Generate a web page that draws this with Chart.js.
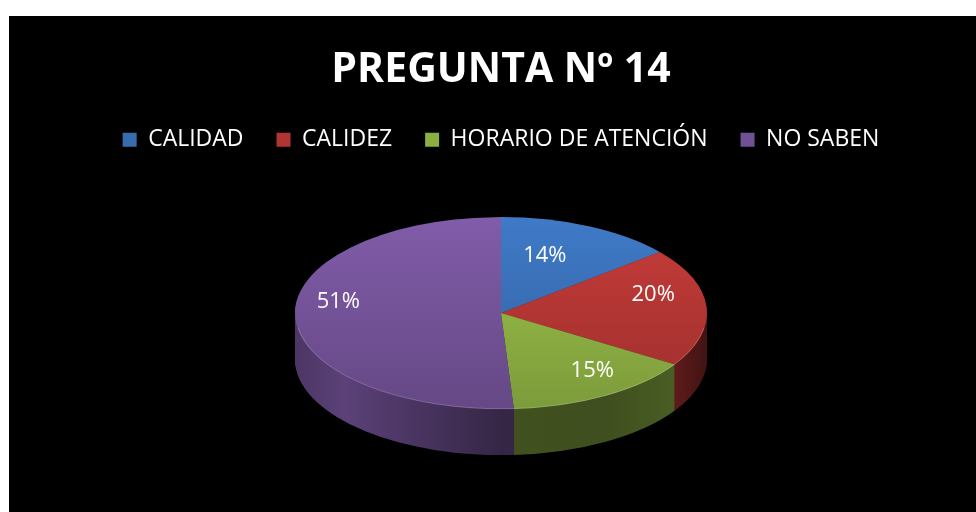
<!DOCTYPE html>
<html>
<head>
<meta charset="utf-8">
<script src="https://cdn.jsdelivr.net/npm/chart.js@4.4.0/dist/chart.umd.min.js"></script>
<style>
html, body { margin: 0; padding: 0; background: #fff; }
#frame { position: absolute; left: 9px; top: 16px; width: 967px; height: 496px; background: #000; }
</style>
</head>
<body>
<div id="frame"><canvas id="chart" width="967" height="496"></canvas></div>
<script>
var categories = ['CALIDAD', 'CALIDEZ', 'HORARIO DE ATENCIÓN', 'NO SABEN'];
var percentages = [14, 20, 15, 51];
var sliceColors = [[62, 120, 196], [195, 59, 56], [155, 194, 74], [126, 90, 166]];

function rgb(c, k) {
	return 'rgb(' + Math.round(c[0] * k) + ',' + Math.round(c[1] * k) + ',' + Math.round(c[2] * k) + ')';
}

// squashes the round pie into a tilted disc and draws the rim below it
var pie3d = {
	id: 'pie3d',
	beforeDatasetsDraw: function(chart, args, opts) {
		var ctx = chart.ctx;
		var arcs = chart.getDatasetMeta(0).data;
		var cx = arcs[0].x, cy = arcs[0].y, r = arcs[0].outerRadius;
		var sx = opts.rx / r, sy = opts.ry / r;

		var sideFills = sliceColors.map(function(c) {
			var g = ctx.createLinearGradient(cx - r, 0, cx + r, 0);
			g.addColorStop(0, rgb(c, 0.6));
			g.addColorStop(0.12, rgb(c, 0.72));
			g.addColorStop(0.5, rgb(c, 0.42));
			g.addColorStop(0.75, rgb(c, 0.4));
			g.addColorStop(0.92, rgb(c, 0.48));
			g.addColorStop(1, rgb(c, 0.33));
			return g;
		});
		var topFills = sliceColors.map(function(c) {
			var g = ctx.createLinearGradient(0, cy - r, 0, cy + r);
			g.addColorStop(0, rgb(c, 1.02));
			g.addColorStop(1, rgb(c, 0.8));
			return g;
		});

		function layer(d, fills) {
			ctx.save();
			ctx.translate(cx, cy + d);
			ctx.scale(sx, sy);
			ctx.translate(-cx, -cy);
			arcs.forEach(function(arc, i) {
				var keep = arc.options.backgroundColor;
				arc.options.backgroundColor = fills[i];
				arc.draw(ctx);
				arc.options.backgroundColor = keep;
			});
			ctx.restore();
		}

		for (var d = opts.depth; d >= 1; d--) {
			layer(d, sideFills);
		}
		layer(0, topFills);

		// thin light edge on the front rim
		ctx.save();
		ctx.translate(cx, cy);
		ctx.scale(sx, sy);
		ctx.beginPath();
		ctx.arc(0, 0, r - 0.5, Math.PI * 0.05, Math.PI * 0.95);
		ctx.restore();
		ctx.strokeStyle = 'rgba(255,255,255,0.18)';
		ctx.lineWidth = 1;
		ctx.stroke();
		return false;
	},
	afterDraw: function(chart, args, opts) {
		var ctx = chart.ctx;
		var arcs = chart.getDatasetMeta(0).data;
		var cx = arcs[0].x, cy = arcs[0].y, r = arcs[0].outerRadius;
		var sx = opts.rx / r, sy = opts.ry / r;
		var total = percentages.reduce(function(a, b) { return a + b; }, 0);
		ctx.save();
		ctx.fillStyle = '#fff';
		ctx.font = '22px "Open Sans"';
		ctx.textAlign = 'center';
		ctx.textBaseline = 'middle';
		arcs.forEach(function(arc, i) {
			var mid = (arc.startAngle + arc.endAngle) / 2;
			var f = opts.labelRadius[i];
			var x = cx + Math.cos(mid) * r * f * sx;
			var y = cy + opts.labelShift + Math.sin(mid) * r * f * sy;
			ctx.fillText(Math.round(percentages[i] / total * 100) + '%', x, y);
		});
		ctx.restore();
	}
};

new Chart(document.getElementById('chart'), {
	type: 'pie',
	data: {
		labels: categories,
		datasets: [{
			data: percentages,
			backgroundColor: sliceColors.map(function(c) { return rgb(c, 0.9); }),
			borderWidth: 0
		}]
	},
	plugins: [pie3d],
	options: {
		responsive: false,
		animation: false,
		events: [],
		layout: { padding: { left: 17, right: 0, top: 0, bottom: 47 } },
		plugins: {
			title: {
				display: true,
				text: 'PREGUNTA Nº 14',
				color: '#fff',
				font: { family: 'Open Sans', size: 41, weight: 'bold' },
				padding: { top: 30, bottom: 0 }
			},
			legend: {
				position: 'top',
				labels: {
					color: '#fff',
					font: { family: 'Open Sans', size: 23 },
					boxWidth: 14,
					boxHeight: 14,
					padding: 33
				}
			},
			tooltip: { enabled: false },
			pie3d: { rx: 206, ry: 96, depth: 46, labelShift: -14, labelRadius: [0.5, 0.74, 0.87, 0.79] }
		}
	}
});
</script>
</body>
</html>
